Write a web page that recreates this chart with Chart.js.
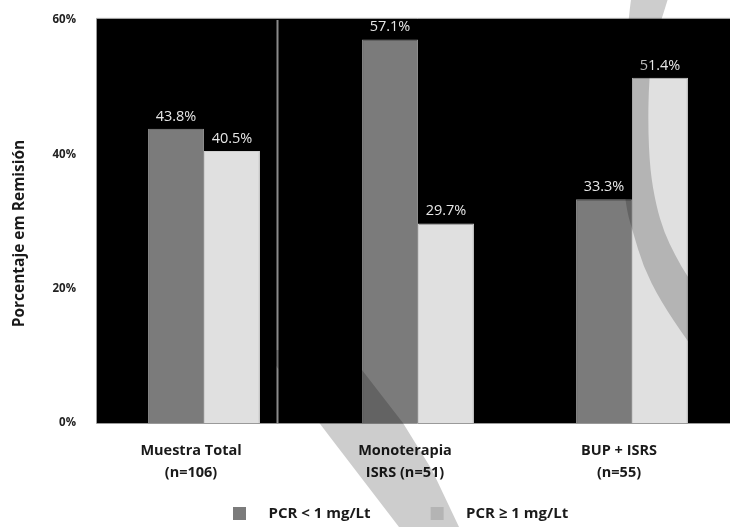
<!DOCTYPE html>
<html>
<head>
<meta charset="utf-8">
<script src="https://cdn.jsdelivr.net/npm/chart.js@4.4.1/dist/chart.umd.min.js"></script>
<style>
  html, body { margin: 0; padding: 0; overflow: hidden; background: #fff; }
  #wrap { position: relative; width: 745px; height: 527px; }
</style>
</head>
<body>
<div id="wrap"><canvas id="c"></canvas></div>
<script>
// Remission rate by PCR level, per treatment group
const categories = [['Muestra Total', '(n=106)'], ['Monoterapia', 'ISRS (n=51)'], ['BUP + ISRS', '(n=55)']];
const seriesNames = ['PCR < 1 mg/Lt', 'PCR \u2265 1 mg/Lt'];
const pcrBajo = [43.8, 57.1, 33.3];
const pcrAlto = [40.5, 29.7, 51.4];
const yTickValues = [0, 20, 40, 60];
const yTitle = 'Porcentaje em Remisi\u00f3n';

const seriesColors = ['#7b7b7b', '#e0e0e0'];
const seriesBorders = ['#8c8c8c', '#cfcfcf'];
const FONT = "'Open Sans', 'DejaVu Sans', sans-serif";

// legend swatch: blank lead-in, then a 13px square
function swatch(color) {
  const c = document.createElement('canvas');
  c.width = 88; c.height = 13;
  const g = c.getContext('2d');
  g.fillStyle = color;
  g.fillRect(60, 0, 13, 13);
  return c;
}
const swatches = seriesColors.map(swatch);

function smoothShape(ctx, pts) {
  ctx.beginPath();
  ctx.moveTo(pts[0][0], pts[0][1]);
  for (let i = 1; i < pts.length - 1; i++) {
    const mx = (pts[i][0] + pts[i + 1][0]) / 2, my = (pts[i][1] + pts[i + 1][1]) / 2;
    ctx.quadraticCurveTo(pts[i][0], pts[i][1], mx, my);
  }
  const last = pts[pts.length - 1];
  ctx.lineTo(last[0], last[1]);
  ctx.closePath();
}

const decor = {
  id: 'decor',
  afterLayout(chart) {
    // place the legend row under the plot
    const lg = chart.legend;
    const pad = lg.options.labels.padding;
    const startX = (lg.left + pad + lg.right - lg.lineWidths[0]) / 2;
    const dx = 173 - startX;
    lg.left += dx; lg.right += dx;
    const dy = (506 - pad) - lg.top;
    lg.top += dy; lg.bottom += dy;
  },
  beforeDraw(chart) {
    const { ctx, chartArea: a } = chart;
    ctx.save();
    ctx.fillStyle = '#ffffff';
    ctx.fillRect(0, 0, chart.width, chart.height);
    ctx.fillStyle = '#000000';
    ctx.fillRect(a.left, a.top - 1, a.right - a.left, a.bottom - a.top + 1);
    ctx.restore();
  },
  afterDatasetsDraw(chart) {
    const { ctx, chartArea: a } = chart;
    const xs = chart.scales.x;
    ctx.save();
    // divider between the overall sample and the subgroups
    const sx = Math.round(xs.getPixelForValue(0.34)) + 0.5;
    ctx.strokeStyle = '#8a8a8a';
    ctx.lineWidth = 2;
    ctx.beginPath(); ctx.moveTo(sx, a.top); ctx.lineTo(sx, a.bottom); ctx.stroke();
    // plot frame
    ctx.strokeStyle = '#9a9a9a';
    ctx.lineWidth = 1;
    ctx.beginPath();
    ctx.moveTo(a.left - 0.5, a.bottom + 0.5); ctx.lineTo(a.left - 0.5, a.top - 1.5);
    ctx.lineTo(a.right, a.top - 1.5);
    ctx.moveTo(a.left - 0.5, a.bottom + 0.5); ctx.lineTo(a.right, a.bottom + 0.5);
    ctx.stroke();
    // value labels above each bar
    ctx.fillStyle = '#e6e6e6';
    ctx.font = '14.5px ' + FONT;
    ctx.textAlign = 'center';
    ctx.textBaseline = 'alphabetic';
    chart.data.datasets.forEach((ds, di) => {
      chart.getDatasetMeta(di).data.forEach((bar, i) => {
        ctx.fillText(ds.data[i].toFixed(1) + '%', bar.x, bar.y - 8);
      });
    });
    ctx.restore();
  },
  afterDraw(chart) {
    const { ctx } = chart;
    ctx.save();
    ctx.globalCompositeOperation = 'multiply';
    ctx.fillStyle = '#cdcdcd';
    // curved swoosh at the upper right
    const inner = [[670, -8], [663, 15], [653, 45], [649, 80], [648, 125], [650, 170], [656, 205], [664, 232], [675, 255], [688, 278], [706, 300], [730, 325]];
    const outer = [[632, -8], [629, 15], [625, 60], [622, 120], [623, 180], [627, 212], [633, 232], [643, 266], [660, 300], [688, 342], [712, 372]];
    smoothShape(ctx, inner.concat(outer.slice().reverse()));
    ctx.fill();
    // diagonal band at the bottom, narrowing slightly toward the foot
    const right = [[347, 350], [362, 370], [403, 423], [432, 470], [459, 527], [465, 540]];
    const left = [[264, 350], [330, 437], [399, 527], [409, 540]];
    ctx.beginPath();
    right.forEach((p, i) => (i ? ctx.lineTo(p[0], p[1]) : ctx.moveTo(p[0], p[1])));
    left.slice().reverse().forEach(p => ctx.lineTo(p[0], p[1]));
    ctx.closePath();
    ctx.fill();
    ctx.restore();
  }
};

new Chart(document.getElementById('c'), {
  type: 'bar',
  data: {
    labels: categories,
    datasets: [
      { label: seriesNames[0], data: pcrBajo, backgroundColor: seriesColors[0], borderColor: seriesBorders[0], borderWidth: 1 },
      { label: seriesNames[1], data: pcrAlto, backgroundColor: seriesColors[1], borderColor: seriesBorders[1], borderWidth: 1 }
    ]
  },
  options: {
    responsive: true,
    maintainAspectRatio: false,
    animation: false,
    layout: { padding: { top: 16, right: 6, bottom: 0, left: 0 } },
    datasets: { bar: { categoryPercentage: 0.523, barPercentage: 1.0 } },
    scales: {
      x: {
        afterFit: s => { s.height = 79; },
        grid: { display: false },
        border: { display: false },
        ticks: {
          color: '#1a1a1a',
          padding: 9,
          labelOffset: -13,
          maxRotation: 0,
          font: { family: FONT, size: 14.5, weight: 'bold', lineHeight: '22px' }
        }
      },
      y: {
        min: 0,
        max: 60,
        afterFit: s => { s.width = 97; },
        afterBuildTicks: s => { s.ticks = yTickValues.map(v => ({ value: v })); },
        grid: { display: false },
        border: { display: false },
        ticks: {
          color: '#222',
          padding: 13,
          font: { family: FONT, size: 11.5, weight: 'bold' },
          callback: v => v + '%'
        },
        title: {
          display: true,
          text: yTitle + '\u00a0\u00a0\u00a0\u00a0\u00a0\u00a0',
          color: '#1a1a1a',
          padding: { top: 10, bottom: 0 },
          font: { family: FONT, size: 15.5, weight: 'bold', lineHeight: 1.2 }
        }
      }
    },
    plugins: {
      tooltip: { enabled: false },
      legend: {
        position: 'bottom',
        labels: {
          usePointStyle: true,
          pointStyleWidth: 88,
          padding: 0,
          color: '#1a1a1a',
          font: { family: FONT, size: 15, weight: 'bold' },
          generateLabels: chart => Chart.defaults.plugins.legend.labels.generateLabels(chart)
            .map((item, i) => Object.assign(item, { pointStyle: swatches[i] }))
        }
      }
    }
  },
  plugins: [decor]
});
</script>
</body>
</html>
